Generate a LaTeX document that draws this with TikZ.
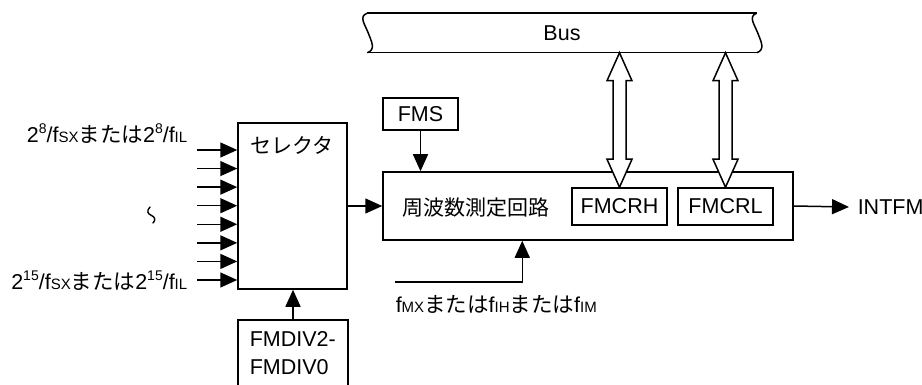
\documentclass[tikz,border=0pt]{standalone}
\usepackage{fontspec}
\setmainfont{Liberation Sans}
\newfontfamily\jp{Noto Sans CJK JP}
\usetikzlibrary{arrows.meta,calc}
\newcommand\lo[1]{{\fontsize{15}{15}\selectfont #1}}
\newcommand\hi[1]{\raisebox{0.42em}{\fontsize{14}{14}\selectfont #1}}
\begin{document}
\begin{tikzpicture}[x=1pt,y=-1pt,line width=1.5pt,
  box/.style={draw,inner sep=0pt,fill=white},
  txt/.style={inner sep=0pt,font=\fontsize{21.5}{28}\selectfont},
  jptxt/.style={inner sep=0pt,font=\fontsize{21}{28}\selectfont\jp},
  arr/.style={-{Triangle[length=17pt,width=15pt]}},
  dbl/.style={draw,fill=white,line join=miter}]
\clip (0,0) rectangle (922,385);
% bus
\node[txt,minimum width=388,minimum height=38] (bus) at (562,33) {Bus};
\draw (bus.north west) -- (bus.north east);
\draw (bus.south west) -- (bus.south east);
\draw (bus.north west) .. controls +(-9,3) and +(-3,-8) .. ($(bus.west)+(1,0)$)
      .. controls +(3,8) and +(9,-3) .. (bus.south west);
\draw (bus.north east) .. controls +(-9,3) and +(-3,-8) .. ($(bus.east)+(1,0)$)
      .. controls +(3,8) and +(9,-3) .. (bus.south east);
% selector
\node[box,minimum width=109,minimum height=166] (sel) at (292.5,206) {};
\node[jptxt] (seltxt) at (292,145) {セレクタ};
% measurement circuit
\node[box,minimum width=410,minimum height=68] (meas) at (588,206) {};
\node[jptxt] (meastxt) at (476,208) {周波数測定回路};
\node[box,txt,minimum width=95,minimum height=37] (fmcrh) at (619.5,206.5) {FMCRH};
\node[box,txt,minimum width=95,minimum height=37] (fmcrl) at (725.5,206.5) {FMCRL};
\node[box,txt,minimum width=75,minimum height=32] (fms) at (420.5,114) {FMS};
\node[box,minimum width=110,minimum height=80] (fmdiv) at (293,360) {};
\node[txt,align=left,anchor=west] (fmdivtxt) at (249,353) {FMDIV2-\\FMDIV0};
% inputs
\foreach \i in {0,...,7}{
  \coordinate (in\i) at (197,{150+\i*18.57});
  \draw[arr] (in\i) -- (in\i -| sel.west);
}
\node[txt,anchor=east] (ltop) at (188,134) {2\hi{8}/f\lo{SX}{\jp または}2\hi{8}/f\lo{IL}};
\node[txt,anchor=east] (lbot) at (188,281) {2\hi{15}/f\lo{SX}{\jp または}2\hi{15}/f\lo{IL}};
% vertical tilde mark
\draw[line width=1.4pt,line cap=round] (150,207) .. controls (146,211) and (148,214) .. (151.5,215.5)
   .. controls (155,217) and (156,220) .. (153,223);
% connectors
\draw[arr] (sel.east) -- (meas.west);
\draw[arr] (fms.south) -- (fms.south |- meas.north);
\draw[arr] (fmdiv.north) -- (fmdiv.north |- sel.south);
\node[txt,anchor=west] (intfm) at (857,207) {INTFM};
\draw[arr] (meas.east) -- ($(intfm.west)+(-8,0)$);
\coordinate (fin) at (395,282);
\draw[arr] (fin) -| ($(meas.south west)+(140,0)$);
\node[txt,anchor=west] (flabel) at (395,304) {f\lo{MX}{\jp または}f\lo{IH}{\jp または}f\lo{IM}};
% double arrows to bus
\foreach \b in {fmcrh,fmcrl}{
  \coordinate (T) at (\b.north |- bus.south);
  \coordinate (B) at (\b.north);
  \draw[dbl] (T) -- ++(12.5,28) -- ++(-6,0) -- ($(B)+(6.5,-28)$) -- ++(6,0) -- (B)
     -- ++(-12.5,-28) -- ++(6,0) -- ($(T)+(-6.5,28)$) -- ++(-6,0) -- cycle;
}
\end{tikzpicture}
\end{document}
